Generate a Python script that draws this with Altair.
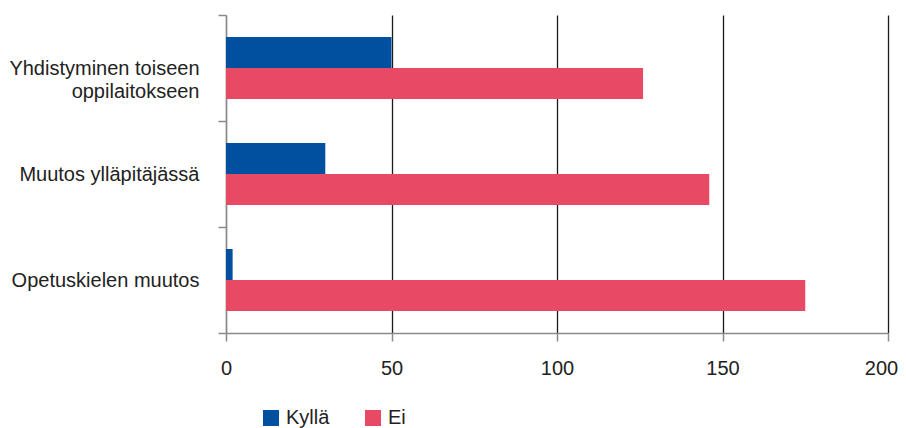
import altair as alt
import pandas as pd

categories = ["Yhdistyminen toiseen oppilaitokseen", "Muutos ylläpitäjässä", "Opetuskielen muutos"]
series = ["Kyllä", "Ei"]
kylla = [50, 30, 2]
ei = [126, 146, 175]
colors = ["#0050A0", "#E84A66"]
x_ticks = [0, 50, 100, 150, 200]

rows = []
for c, k, e in zip(categories, kylla, ei):
    rows.append({"kategoria": c, "vastaus": series[0], "arvo": k})
    rows.append({"kategoria": c, "vastaus": series[1], "arvo": e})
df = pd.DataFrame(rows)

FONT = "Liberation Sans"
TEXT = "#222222"
GRAY = "#8a8a8a"

chart = alt.Chart(df).mark_bar(strokeWidth=0).encode(
    y=alt.Y(
        "kategoria:N",
        sort=categories,
        scale=alt.Scale(paddingInner=0, paddingOuter=0),
        axis=alt.Axis(
            title=None,
            tickBand="extent",
            tickSize=8,
            tickColor=GRAY,
            domainColor=GRAY,
            domainWidth=1.5,
            tickWidth=1.5,
            labelFont=FONT,
            labelFontSize=20,
            labelColor=TEXT,
            labelAlign="right",
            labelBaseline="middle",
            labelPadding=19,
            labelLimit=400,
            labelLineHeight=23,
            labelExpr="datum.label == 'Yhdistyminen toiseen oppilaitokseen' ? ['Yhdistyminen toiseen', 'oppilaitokseen'] : datum.label",
        ),
    ),
    yOffset=alt.YOffset(
        "vastaus:N",
        sort=series,
        scale=alt.Scale(paddingInner=0, paddingOuter=0.7097),
    ),
    x=alt.X(
        "arvo:Q",
        scale=alt.Scale(domain=[0, 200], nice=False),
        axis=alt.Axis(
            title=None,
            values=x_ticks,
            grid=True,
            gridColor={"condition": {"test": "datum.value === 0", "value": GRAY}, "value": "#1a1a1a"},
            gridWidth=1.3,
            tickSize=8,
            tickColor=GRAY,
            tickWidth=1.5,
            domainColor=GRAY,
            domainWidth=1.5,
            labelFont=FONT,
            labelFontSize=20,
            labelColor=TEXT,
            labelPadding=17,
            labelFlush=False,
            labelOffset={"condition": {"test": "datum.value === 200", "value": -7}, "value": 0},
        ),
    ),
    color=alt.Color(
        "vastaus:N",
        sort=series,
        scale=alt.Scale(domain=series, range=colors),
        legend=alt.Legend(
            title=None,
            orient="none",
            legendX=35,
            legendY=393,
            direction="horizontal",
            symbolType="square",
            symbolSize=256,
            symbolStrokeWidth=0,
            labelFont=FONT,
            labelFontSize=20,
            labelColor=TEXT,
            labelOffset=5,
            columnPadding=33,
        ),
    ),
).properties(
    width=662,
    height=318,
    padding={"left": 218, "top": 7, "right": 10, "bottom": 95},
    autosize=alt.AutoSizeParams(type="none"),
).configure_view(stroke=None)

chart.save("out.html", embed_options={"renderer": "svg", "actions": False})
